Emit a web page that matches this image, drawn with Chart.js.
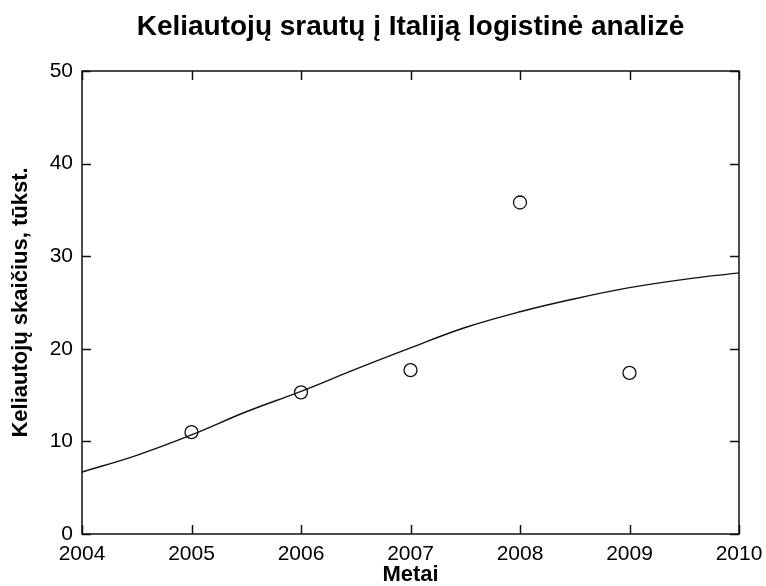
<!DOCTYPE html>
<html>
<head>
<meta charset="utf-8">
<script src="https://cdn.jsdelivr.net/npm/chart.js@4/dist/chart.umd.min.js"></script>
<style>
  html, body { margin: 0; padding: 0; background: #fff; }
  #graph { display: block; }
</style>
</head>
<body>
<canvas id="graph" width="766" height="586"></canvas>
<script>
// observed passengers (thousands)
var g_years = [2005, 2006, 2007, 2008, 2009];
var g_travellers = [11.0, 15.3, 17.7, 35.8, 17.4];
// logistic fit curve
var g_fitYears = [2004, 2004.5, 2005, 2005.5, 2006, 2006.5, 2007, 2007.5, 2008, 2008.5, 2009, 2009.5, 2010];
var g_fitValues = [6.7, 8.5, 10.7, 13.2, 15.4, 17.8, 20.1, 22.3, 24.0, 25.4, 26.6, 27.5, 28.2];
var g_xTicks = [2004, 2005, 2006, 2007, 2008, 2009, 2010];
var g_yTicks = [0, 10, 20, 30, 40, 50];

var g_ink = "#111";
var g_tickLen = 9;

function toPoints(xs, ys) {
    return xs.map(function (x, i) { return { x: x, y: ys[i] }; });
}

// box round the plot + inward ticks on all four sides (matlab style)
var boxTicks = {
    id: "boxTicks",
    afterDatasetsDraw: function (chart) {
        var ctx = chart.ctx;
        var a = chart.chartArea;
        var sx = chart.scales.x, sy = chart.scales.y;
        ctx.save();
        ctx.strokeStyle = g_ink;
        ctx.lineWidth = 1.5;
        ctx.beginPath();
        g_xTicks.forEach(function (v) {
            var px = Math.round(sx.getPixelForValue(v)) + 0.5;
            ctx.moveTo(px, a.bottom); ctx.lineTo(px, a.bottom - g_tickLen);
            ctx.moveTo(px, a.top); ctx.lineTo(px, a.top + g_tickLen);
        });
        g_yTicks.forEach(function (v) {
            var py = Math.round(sy.getPixelForValue(v)) + 0.5;
            ctx.moveTo(a.left, py); ctx.lineTo(a.left + g_tickLen, py);
            ctx.moveTo(a.right, py); ctx.lineTo(a.right - g_tickLen, py);
        });
        ctx.stroke();
        ctx.strokeRect(a.left, a.top, a.right - a.left, a.bottom - a.top);
        ctx.restore();
    }
};

var tickFont = { family: "'Liberation Sans', Arial, sans-serif", size: 21 };
var labelFont = { family: "'Liberation Sans', Arial, sans-serif", size: 22, weight: "bold", lineHeight: 1 };

var ctx = document.getElementById("graph").getContext("2d");
var g_chart = new Chart(ctx, {
    data: {
        datasets: [{
            type: "line",
            data: toPoints(g_fitYears, g_fitValues),
            borderColor: g_ink,
            borderWidth: 1.4,
            pointRadius: 0,
            tension: 0.4,
            fill: false
        }, {
            type: "scatter",
            data: toPoints(g_years, g_travellers),
            pointStyle: "circle",
            pointRadius: 6.5,
            pointBorderWidth: 1.3,
            borderColor: g_ink,
            backgroundColor: "rgba(0,0,0,0)"
        }]
    },
    options: {
        responsive: false,
        animation: false,
        devicePixelRatio: 1,
        layout: { padding: 0 },
        plugins: {
            legend: { display: false },
            tooltip: { enabled: false },
            title: {
                display: true,
                fullSize: false,
                text: "Keliautojų srautų į Italiją logistinė analizė",
                color: "#000",
                font: { family: "'Liberation Sans', Arial, sans-serif", size: 28, weight: "bold", lineHeight: 1.2 },
                padding: { top: 10.2, bottom: 27.2 }
            }
        },
        scales: {
            x: {
                type: "linear",
                min: 2004,
                max: 2010,
                grid: { display: false, drawTicks: false },
                border: { display: false },
                ticks: {
                    stepSize: 1,
                    color: "#000",
                    font: tickFont,
                    padding: 8,
                    maxRotation: 0,
                    callback: function (v) { return String(v); }
                },
                title: { display: true, text: "Metai", color: "#000", font: labelFont, padding: { top: 0, bottom: 0 } },
                afterFit: function (s) { s.height = 52; s.paddingLeft = 0; s.paddingRight = 27; }
            },
            y: {
                min: 0,
                max: 50,
                grid: { display: false, drawTicks: false },
                border: { display: false },
                ticks: { stepSize: 10, color: "#000", font: tickFont, padding: 9 },
                title: { display: true, text: "Keliautojų skaičius, tūkst.", color: "#000", font: labelFont, padding: { top: 10, bottom: 0 } },
                afterFit: function (s) { s.width = 82; s.paddingTop = 0; s.paddingBottom = 0; }
            }
        }
    },
    plugins: [boxTicks]
});
</script>
</body>
</html>
